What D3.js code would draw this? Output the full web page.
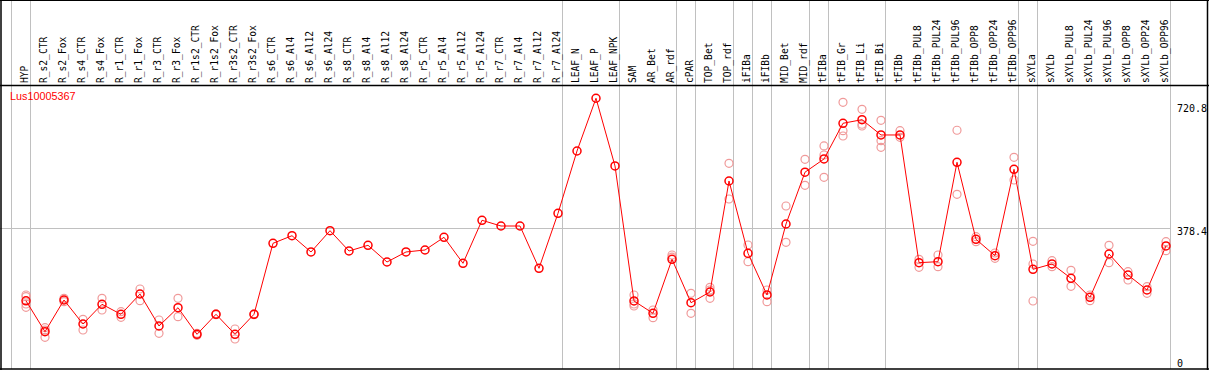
<!DOCTYPE html>
<html>
<head>
<meta charset="utf-8">
<script src="https://cdn.jsdelivr.net/npm/d3@7/dist/d3.min.js"></script>
<style>
  html, body { margin: 0; padding: 0; background: #fff; }
  svg { display: block; }
</style>
</head>
<body>
<svg id="chart" width="1209" height="370"></svg>
<script>
const categories = ["HYP","R_s2_CTR","R_s2_Fox","R_s4_CTR","R_s4_Fox","R_r1_CTR","R_r1_Fox","R_r3_CTR","R_r3_Fox","R_r1s2_CTR","R_r1s2_Fox","R_r3s2_CTR","R_r3s2_Fox","R_s6_CTR","R_s6_Al4","R_s6_Al12","R_s6_Al24","R_s8_CTR","R_s8_Al4","R_s8_Al12","R_s8_Al24","R_r5_CTR","R_r5_Al4","R_r5_Al12","R_r5_Al24","R_r7_CTR","R_r7_Al4","R_r7_Al12","R_r7_Al24","LEAF_N","LEAF_P","LEAF_NPK","SAM","AR_Bet","AR_rdf","cPAR","TOP_Bet","TOP_rdf","iFIBa","iFIBb","MID_Bet","MID_rdf","tFIBa","tFIB_Gr","tFIB_Li","tFIB_Bi","tFIBb","tFIBb_PUL8","tFIBb_PUL24","tFIBb_PUL96","tFIBb_OPP8","tFIBb_OPP24","tFIBb_OPP96","sXYLa","sXYLb","sXYLb_PUL8","sXYLb_PUL24","sXYLb_PUL96","sXYLb_OPP8","sXYLb_OPP24","sXYLb_OPP96"];

const meanValues = [176.5,90.5,178.7,111.9,166.8,138.9,195.4,106.3,157.3,83.2,138.9,83.2,138.9,336.6,357.7,312.4,371.7,315.1,331,284.5,312.4,317.9,353.3,280.9,400.6,384.7,384.7,267,420.1,593.5,740.3,551.8,176,141.7,292,171.2,201,510,308.7,192.7,390.3,534.5,571.3,670.7,680.7,638.1,638.1,282.6,285.4,562.1,347.7,302.1,542.6,264.2,279,239.1,186.2,306.8,248.3,206.6,329.1];

const replicateValues = [
  [192.6,187.9,167.6,158.4],
  [101.6,95,74.9],
  [183.5,174],
  [125,95.2],
  [183.5,150.9],
  [146.2,130.6],
  [209.4,176.8],
  [123,86],
  [183.5,132.2],
  [86,80.5],
  [140,138],
  [98,70.2],
  [140,138],
  [],[],[],[],[],[],[],[],[],[],[],[],[],[],[],[],
  [],[],[],
  [192.7,167.6,162],
  [150.9,129.5],
  [304,298],
  [197.4,141.7],
  [214.1,206.6,183.5],
  [559.3,459.9],
  [331.8,285.4],
  [206.6,174],
  [440.4,339.4],
  [570.4,498],
  [607.5,582.4,520.3],
  [729.1,650,635.3],
  [709.6,667.9,663.1],
  [679,622.2,603.8],
  [650,631.7],
  [292,269.8],
  [304,271.4],
  [651.2,473],
  [355,341],
  [309.6,294.8],
  [576,512.8],
  [342.1,279,176],
  [288.1,271.4],
  [261.4,216.9],
  [192.7,176.8],
  [331,282.6],
  [257.5,234.4],
  [215.8,197.4],
  [341,316]
];

const groupStarts = ["HYP","R_s2_CTR","LEAF_N","SAM","cPAR","TOP_Bet","iFIBa","iFIBb","MID_Bet","tFIBa","tFIB_Gr","tFIBb","sXYLa","sXYLb"];
const yTickValues = [0, 378.4, 720.8];
const yTickLabels = ["0", "378.4", "720.8"];
const gridValues = [378.4];
const geneLabel = "Lus10005367";

const W = 1209, H = 370;
const plotLeft = 11.5, plotRight = 1170.5;
const headerBottom = 85.5, plotBottom = 369;

const svg = d3.select("#chart");

const x = d3.scaleBand().domain(categories).range([plotLeft, plotRight]).paddingInner(0).paddingOuter(0);
const px = c => x(c) + 14.5;
const y = d3.scaleLinear().domain([0, 775]).range([364.2, 85.8]);

// horizontal grid
svg.append("g").selectAll("line").data(gridValues).join("line")
  .attr("x1", 0).attr("x2", plotRight)
  .attr("y1", d => Math.round(y(d)) + 0.5).attr("y2", d => Math.round(y(d)) + 0.5)
  .attr("stroke", "#c0c0c0").attr("stroke-width", 1);

// vertical group lines
svg.append("g").selectAll("line").data(groupStarts).join("line")
  .attr("x1", d => x(d)).attr("x2", d => x(d))
  .attr("y1", 0).attr("y2", plotBottom)
  .attr("stroke", "#c0c0c0").attr("stroke-width", 1);
svg.append("line")
  .attr("x1", plotRight).attr("x2", plotRight).attr("y1", 0).attr("y2", plotBottom)
  .attr("stroke", "#c0c0c0").attr("stroke-width", 1);

// borders
svg.append("line").attr("x1", 0).attr("x2", W).attr("y1", 0.5).attr("y2", 0.5).attr("stroke", "#000").attr("stroke-width", 1.2);
svg.append("line").attr("x1", 0).attr("x2", W).attr("y1", headerBottom).attr("y2", headerBottom).attr("stroke", "#000").attr("stroke-width", 1.5);
svg.append("line").attr("x1", 0).attr("x2", W).attr("y1", plotBottom).attr("y2", plotBottom).attr("stroke", "#000").attr("stroke-width", 1.5);
svg.append("line").attr("x1", 1).attr("x2", 1).attr("y1", 0).attr("y2", H).attr("stroke", "#000").attr("stroke-width", 1.5);
svg.append("line").attr("x1", 1207.5).attr("x2", 1207.5).attr("y1", 0).attr("y2", H).attr("stroke", "#000").attr("stroke-width", 1.5);

// header labels
svg.append("g").selectAll("text").data(categories).join("text")
  .attr("transform", d => `translate(${px(d) + 2},83) rotate(-90)`)
  .attr("text-anchor", "start")
  .attr("font-family", "'DejaVu Sans Mono', monospace")
  .attr("font-size", "9.6px")
  .attr("fill", "#000")
  .text(d => d);

// y labels
svg.append("g").selectAll("text").data(yTickValues).join("text")
  .attr("x", 1177)
  .attr("y", d => Math.min(y(d) + 7, 366.5))
  .attr("font-family", "'DejaVu Sans Mono', monospace")
  .attr("font-size", "10px")
  .attr("fill", "#000")
  .text((d, i) => yTickLabels[i]);

// gene label
svg.append("text").attr("x", 10).attr("y", 99.5)
  .attr("font-family", "'Liberation Sans', Arial, sans-serif")
  .attr("font-size", "10.8px").attr("fill", "#ff0000").text(geneLabel);

// replicate circles
const reps = [];
categories.forEach((c, i) => replicateValues[i].forEach(v => reps.push({c, v})));
svg.append("g").selectAll("circle").data(reps).join("circle")
  .attr("cx", d => px(d.c)).attr("cy", d => y(d.v)).attr("r", 4)
  .attr("fill", "none").attr("stroke", "#f09a9a").attr("stroke-width", 1.2);

// mean line
const means = categories.map((c, i) => ({c, v: meanValues[i]}));
svg.append("path").datum(means)
  .attr("d", d3.line().x(d => px(d.c)).y(d => y(d.v)))
  .attr("fill", "none").attr("stroke", "#ff0000").attr("stroke-width", 1);

svg.append("g").selectAll("circle").data(means).join("circle")
  .attr("cx", d => px(d.c)).attr("cy", d => y(d.v)).attr("r", 4)
  .attr("fill", "none").attr("stroke", "#ff0000").attr("stroke-width", 1.5);
</script>
</body>
</html>
